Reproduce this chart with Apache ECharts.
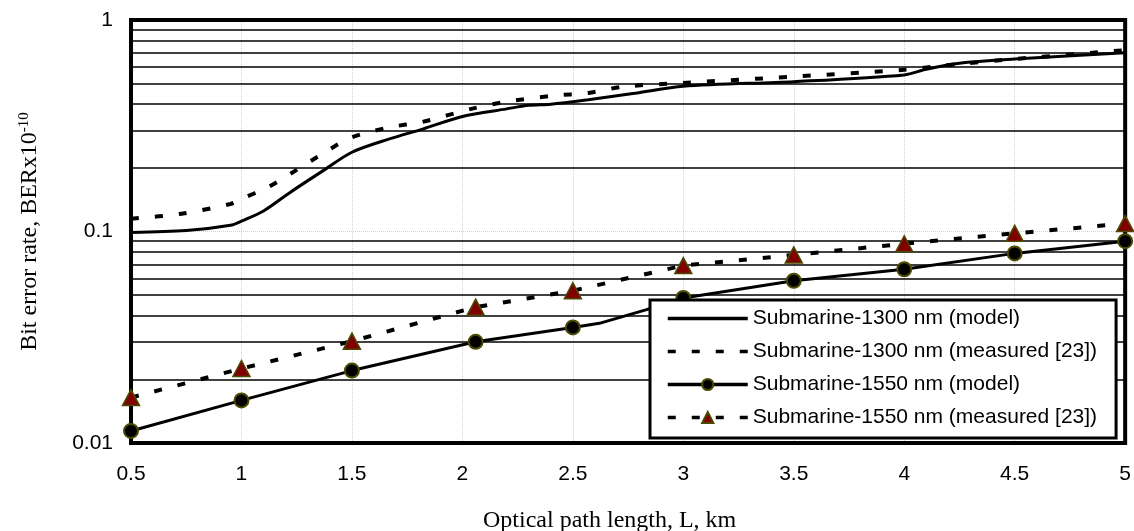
<!DOCTYPE html>
<html>
<head>
<meta charset="utf-8">
<script src="https://cdn.jsdelivr.net/npm/echarts@6/dist/echarts.min.js"></script>
<style>
  html, body { margin: 0; padding: 0; background: #fff; }
  #chart { width: 1134px; height: 531px; }
</style>
</head>
<body>
<div id="chart"></div>
<script>
// ---- Data ----
const seriesNames = [
  'Submarine-1300 nm (model)',
  'Submarine-1300 nm (measured [23])',
  'Submarine-1550 nm (model)',
  'Submarine-1550 nm (measured [23])'
];

const km1300Model  = [0.5, 0.75, 0.95, 1.0, 1.1, 1.22, 1.37, 1.5, 1.67, 1.82, 2.0, 2.2, 2.3, 2.4, 2.57, 2.78, 3.0, 3.5, 4.0, 4.1, 4.25, 4.5, 5.0];
const ber1300Model = [0.099, 0.101, 0.107, 0.112, 0.125, 0.153, 0.194, 0.237, 0.274, 0.305, 0.35, 0.38, 0.395, 0.40, 0.42, 0.45, 0.486, 0.511, 0.55, 0.585, 0.625, 0.654, 0.70];

const km1300Meas  = [0.5, 0.72, 0.95, 1.0, 1.12, 1.22, 1.4, 1.5, 1.67, 1.82, 2.04, 2.2, 2.41, 2.57, 2.73, 3.0, 3.5, 4.0, 4.25, 4.5, 5.0];
const ber1300Meas = [0.115, 0.121, 0.135, 0.1425, 0.162, 0.187, 0.245, 0.279, 0.311, 0.33, 0.38, 0.411, 0.4385, 0.452, 0.484, 0.504, 0.54, 0.582, 0.62, 0.654, 0.72];

const km1550Model  = [0.5, 1.0, 1.5, 2.06, 2.5, 2.62, 2.83, 3.0, 3.5, 4.0, 4.5, 5.0];
const ber1550Model = [0.0114, 0.0159, 0.022, 0.0301, 0.0352, 0.0368, 0.0426, 0.0485, 0.0585, 0.0663, 0.0788, 0.090];
const markerKm1550Model = [0.5, 1.0, 1.5, 2.06, 2.5, 3.0, 3.5, 4.0, 4.5, 5.0];

const km1550Meas  = [0.5, 1.0, 1.5, 2.06, 2.5, 3.0, 3.5, 4.0, 4.5, 5.0];
const ber1550Meas = [0.0164, 0.0225, 0.0303, 0.0439, 0.0525, 0.069, 0.0775, 0.0875, 0.098, 0.109];

const yTickLabels = ['0.01', '0.1', '1'];
const minorGridValues = [0.02, 0.03, 0.04, 0.05, 0.06, 0.07, 0.08, 0.09, 0.2, 0.3, 0.4, 0.5, 0.6, 0.7, 0.8, 0.9];

const xTitle = 'Optical path length, L, km';
const yTitleMain = 'Bit error rate, BERx10';
const yTitleSup = '-10';

// ---- Build ----
const zip = (xs, ys) => xs.map((x, i) => [x, ys[i]]);
const serifFont = '"Liberation Serif", "Times New Roman", serif';
const sansFont = '"Liberation Sans", Arial, sans-serif';

const chart = echarts.init(document.getElementById('chart'), null, { renderer: 'canvas' });

const option = {
  animation: false,
  backgroundColor: '#fff',
  title: {
    text: xTitle,
    left: 483,
    top: 509,
    padding: 0,
    textStyle: { fontFamily: serifFont, fontSize: 24, fontWeight: 'normal', color: '#000' }
  },
  grid: {
    left: 131, right: 3, top: 20, bottom: 88,
    z: 1,
    show: true, borderColor: '#000', borderWidth: 4, backgroundColor: 'transparent'
  },
  legend: {
    z: 10,
    data: [
      { name: seriesNames[0], itemStyle: { opacity: 0 } },
      { name: seriesNames[1], itemStyle: { opacity: 0 } },
      { name: seriesNames[2] },
      { name: seriesNames[3] }
    ],
    orient: 'vertical',
    left: 650,
    top: 300,
    itemWidth: 80,
    itemHeight: 14,
    itemGap: 12,
    padding: [8, 19, 10, 16],
    borderColor: '#000',
    borderWidth: 3,
    backgroundColor: '#fff',
    selectedMode: false,
    lineStyle: { width: 3.5 },
    textStyle: { fontFamily: sansFont, fontSize: 21, color: '#000' }
  },
  xAxis: {
    type: 'value',
    min: 0.5, max: 5, interval: 0.5,
    axisLine: { show: false },
    axisTick: { show: false },
    axisLabel: { fontFamily: sansFont, fontSize: 21, color: '#000', margin: 21 },
    splitLine: { show: true, lineStyle: { color: '#d2d2d2', type: 'dotted', width: 1 } }
  },
  yAxis: {
    type: 'log',
    logBase: 10,
    min: 0.01, max: 1,
    axisLine: { show: false },
    axisTick: { show: false },
    axisLabel: {
      fontFamily: sansFont, fontSize: 21, color: '#000', margin: 18,
      formatter: function (v) {
        const idx = Math.round(Math.log10(v)) + 2;
        return yTickLabels[idx] !== undefined ? yTickLabels[idx] : '';
      }
    },
    splitLine: { show: true, lineStyle: { color: '#d2d2d2', type: 'dotted', width: 1 } },
    name: '{a|' + yTitleMain + '}{s|' + yTitleSup + '}',
    nameLocation: 'middle',
    nameRotate: 90,
    nameGap: 88,
    nameTextStyle: {
      fontFamily: serifFont, fontSize: 24, color: '#000',
      rich: {
        a: { fontFamily: serifFont, fontSize: 24, color: '#000', lineHeight: 26 },
        s: { fontFamily: serifFont, fontSize: 15, color: '#000', verticalAlign: 'top', lineHeight: 14 }
      }
    }
  },
  series: [
    {
      type: 'line',
      data: [],
      silent: true,
      z: 1,
      markLine: {
        z: 1,
        silent: true,
        animation: false,
        symbol: ['none', 'none'],
        label: { show: false },
        lineStyle: { color: '#000', width: 1.6, type: 'solid' },
        emphasis: { disabled: true },
        data: minorGridValues.map(v => ({ yAxis: v }))
      }
    },
    {
      name: seriesNames[0],
      type: 'line',
      z: 2,
      data: zip(km1300Model, ber1300Model),
      symbol: 'none',
      smooth: 0.3,
      itemStyle: { color: '#000' },
      lineStyle: { color: '#000', width: 3 }
    },
    {
      name: seriesNames[1],
      type: 'line',
      z: 2,
      data: zip(km1300Meas, ber1300Meas),
      symbol: 'none',
      smooth: 0.3,
      itemStyle: { color: '#000' },
      lineStyle: { color: '#000', width: 4, type: [8, 16] }
    },
    {
      name: seriesNames[2],
      type: 'line',
      z: 3,
      data: zip(km1550Model, ber1550Model).map(p => (
        markerKm1550Model.indexOf(p[0]) >= 0 ? { value: p } : { value: p, symbol: 'none' }
      )),
      symbol: 'circle',
      symbolSize: 14,
      showAllSymbol: true,
      itemStyle: { color: '#000', borderColor: '#4a4a00', borderWidth: 2 },
      lineStyle: { color: '#000', width: 3 }
    },
    {
      name: seriesNames[3],
      type: 'line',
      z: 3,
      data: zip(km1550Meas, ber1550Meas),
      symbol: 'triangle',
      symbolSize: [17, 16],
      showAllSymbol: true,
      itemStyle: { color: '#800000', borderColor: '#4a4a00', borderWidth: 1.5 },
      lineStyle: { color: '#000', width: 4, type: [8, 16] }
    }
  ]
};

chart.setOption(option);
</script>
</body>
</html>
